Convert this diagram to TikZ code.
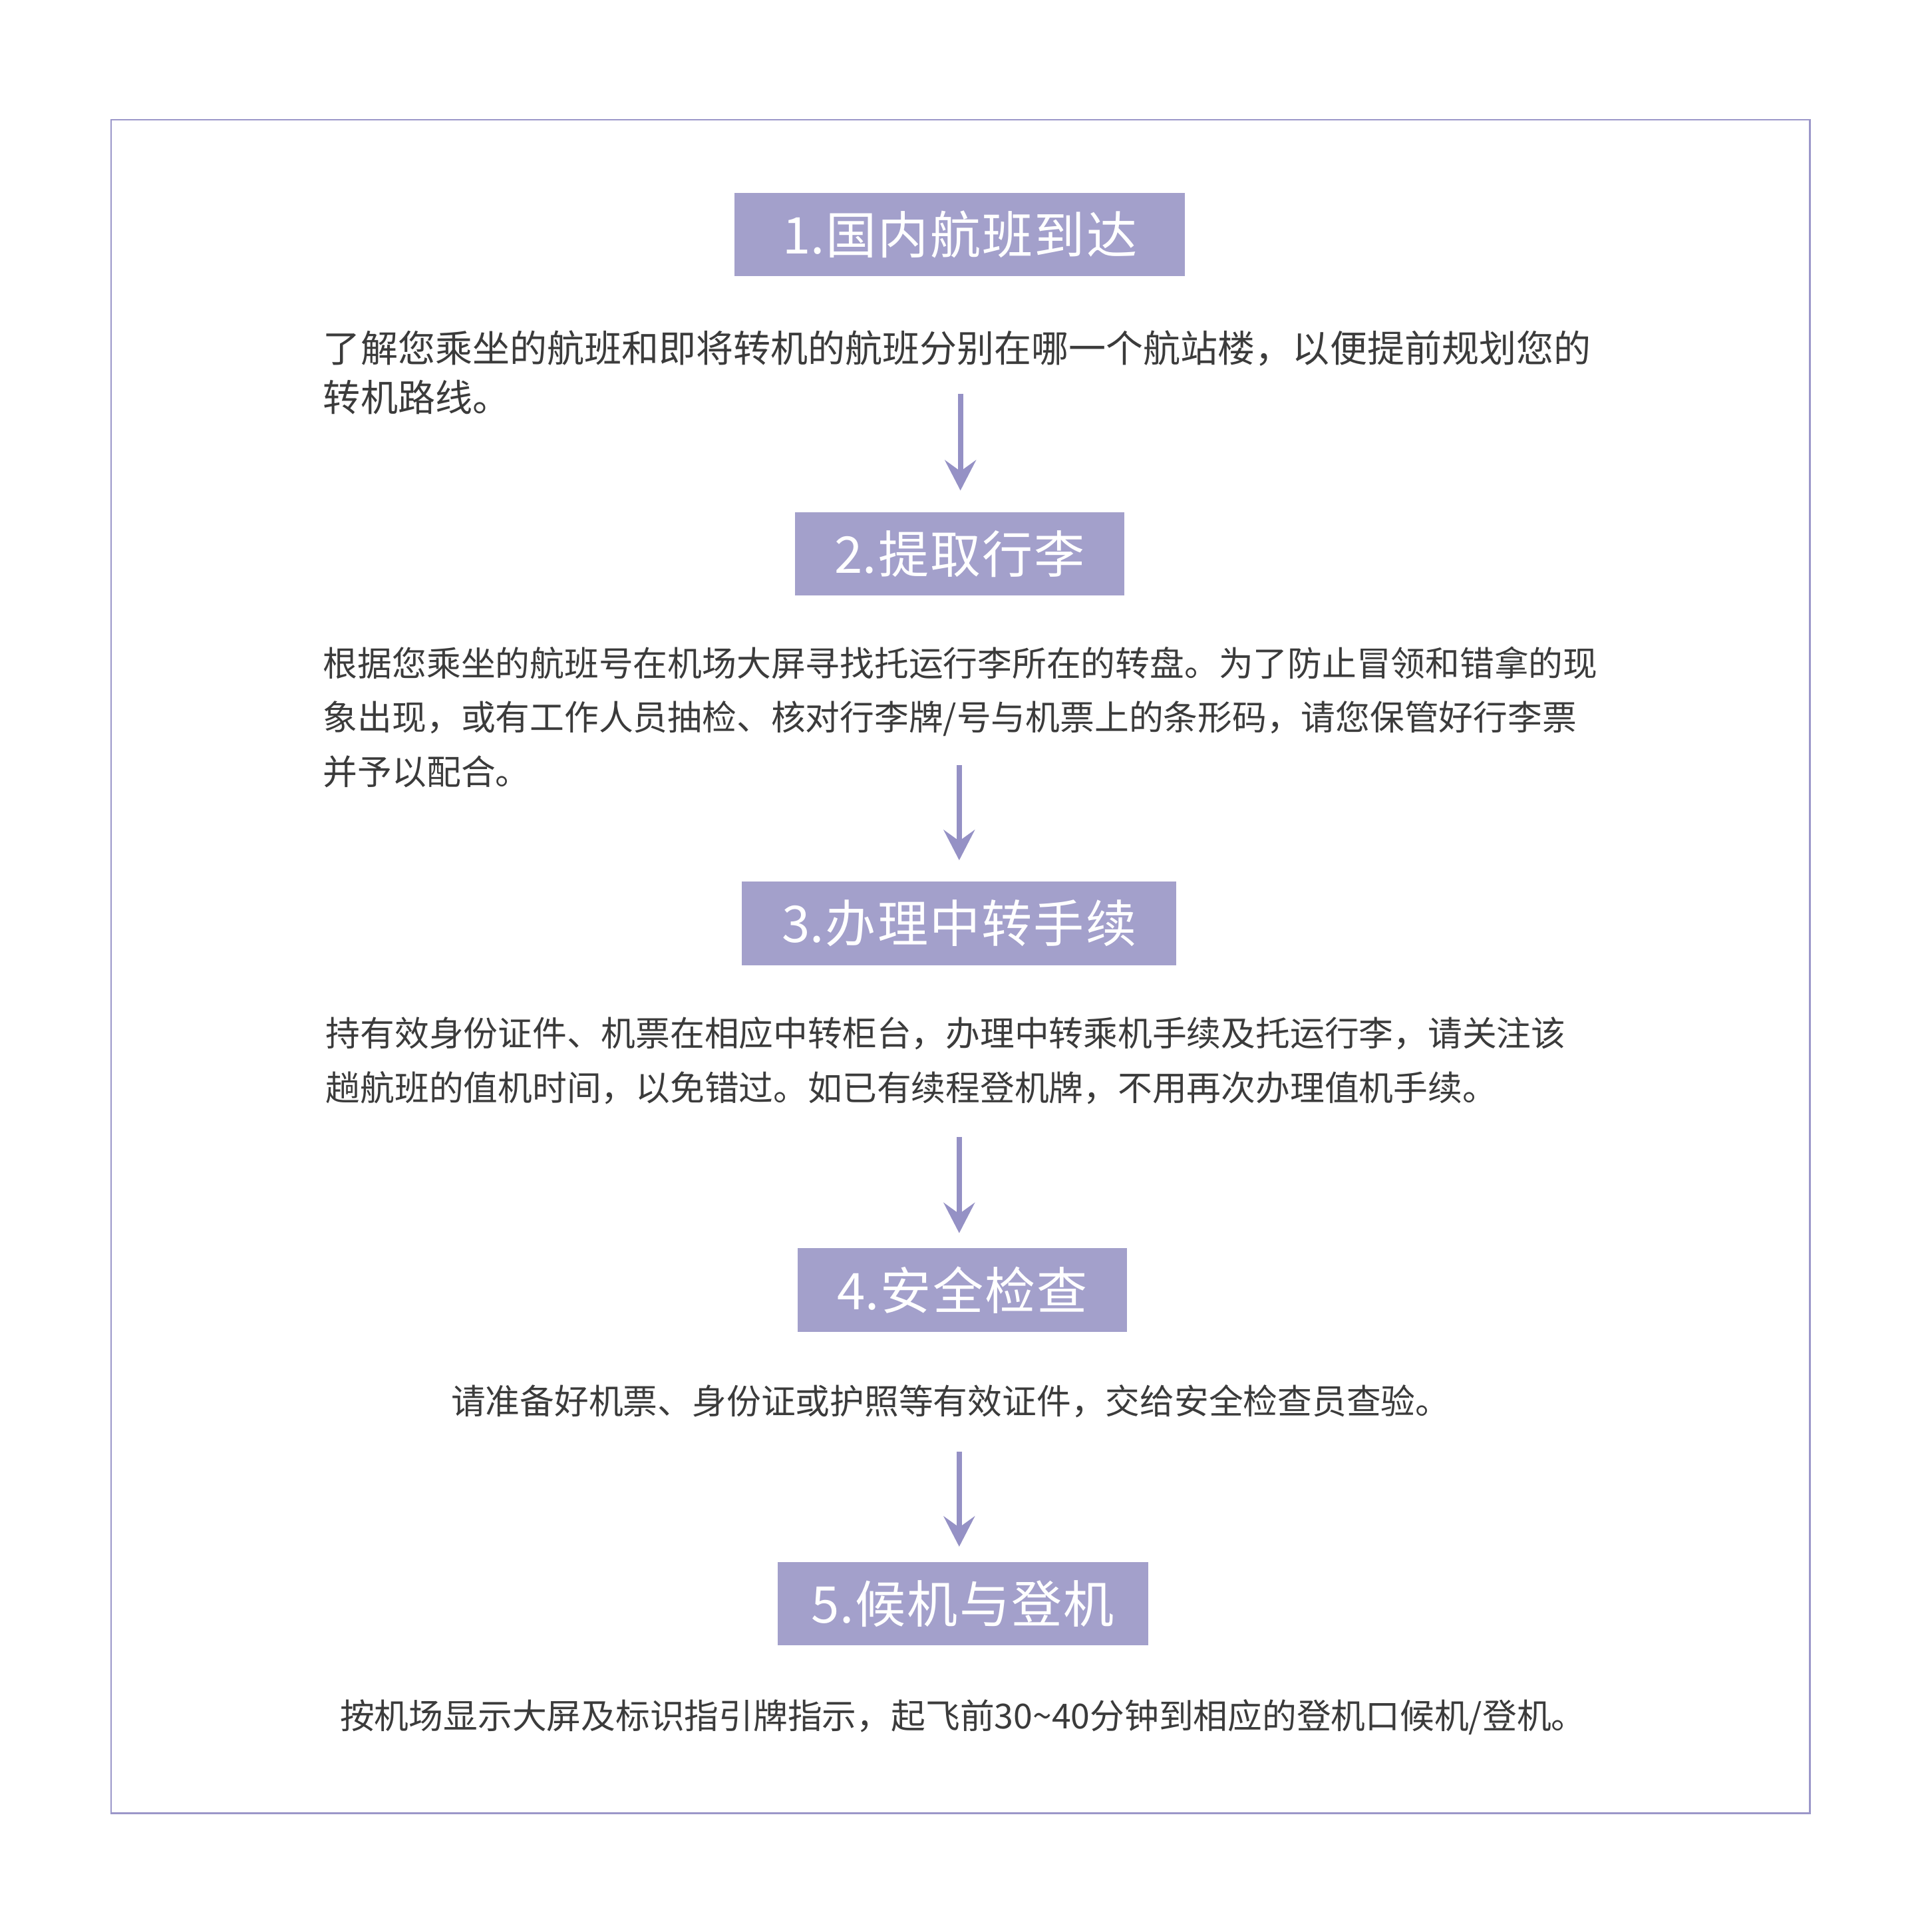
\documentclass[tikz,border=0pt]{standalone}
\usepackage{fontspec}
\setmainfont{Noto Sans CJK SC}
\usetikzlibrary{arrows.meta}
\definecolor{boxfill}{HTML}{A3A0CB}
\definecolor{linec}{HTML}{9591C5}
\definecolor{framec}{HTML}{9B97C9}
\definecolor{txt}{HTML}{3B3B3B}
\newcommand{\tk}{\kern0.6pt}
\begin{document}
\begin{tikzpicture}[x=0.5pt,y=-0.5pt,
  titlebox/.style={fill=boxfill, text=white, font=\fontsize{20.5pt}{24pt}\selectfont, inner sep=0pt, minimum height=33.75pt},
  bodyline/.style={text=txt, inner sep=0pt, anchor=base west, font=\fontsize{13.95pt}{22pt}\selectfont},
  bodybig/.style={bodyline, font=\fontsize{15.1pt}{20pt}\selectfont},
  flowarrow/.style={draw=linec, line width=2.15pt, -{Stealth[length=12.3pt,width=12.6pt,inset=4.5pt]}}]
\useasboundingbox (0,0) rectangle (1552,1565);
\fill[white] (0,0) rectangle (1552,1565);
\draw[framec, line width=0.8pt] (90,97) rectangle (1466,1469);

% step titles
\node[titlebox, minimum width=182.5pt] (b1) at (777.5,190) {1.\tk 国\tk 内\tk 航\tk 班\tk 到\tk 达};
\node[titlebox, minimum width=133.5pt] (b2) at (777.5,448.5) {2.\tk 提\tk 取\tk 行\tk 李};
\node[titlebox, minimum width=176pt] (b3) at (777,748) {3.\tk 办\tk 理\tk 中\tk 转\tk 手\tk 续};
\node[titlebox, minimum width=133.5pt] (b4) at (779.5,1045) {4.\tk 安\tk 全\tk 检\tk 查};
\node[titlebox, minimum width=150pt] (b5) at (780,1299) {5.\tk 候\tk 机\tk 与\tk 登\tk 机};

% paragraph 1
\node[bodybig] (p1a) at (261.5,293.5) {了解您乘坐的航班和即将转机的航班分别在哪一个航站楼，以便提前规划您的};
\node[bodybig] (p1b) at (261.5,333.5) {转机路线。};

% paragraph 2
\node[bodyline] (p2a) at (261.5,547.6) {根据您乘坐的航班号在机场大屏寻找托运行李所在的转盘。为了防止冒领和错拿的现};
\node[bodyline] (p2b) at (261.5,591.6) {象出现，或有工作人员抽检、核对行李牌/号与机票上的条形码，请您保管好行李票};
\node[bodyline] (p2c) at (261.5,635.6) {并予以配合。};

% paragraph 3
\node[bodyline] (p3a) at (263.5,847.6) {持有效身份证件、机票在相应中转柜台，办理中转乘机手续及托运行李，请关注该};
\node[bodyline] (p3b) at (263.5,891.6) {趟航班的值机时间，以免错过。如已有续程登机牌，不用再次办理值机手续。};

% paragraph 4
\node[bodyline, anchor=base] (p4) at (770,1145.6) {请准备好机票、身份证或护照等有效证件，交给安全检查员查验。};

% paragraph 5
\node[bodyline, anchor=base] (p5) at (780,1400.6) {按机场显示大屏及标识指引牌指示，起飞前30\textasciitilde40分钟到相应的登机口候机/登机。};

% arrows
\coordinate (a1s) at (778,319);
\coordinate (a2s) at (777,620);
\coordinate (a3s) at (777,921);
\coordinate (a4s) at (777,1176);
\draw[flowarrow, shorten >=8.5pt] (a1s) -- (a1s |- b2.north);
\draw[flowarrow, shorten >=8.5pt] (a2s) -- (a2s |- b3.north);
\draw[flowarrow, shorten >=6pt] (a3s) -- (a3s |- b4.north);
\draw[flowarrow, shorten >=6pt] (a4s) -- (a4s |- b5.north);
\end{tikzpicture}
\end{document}
